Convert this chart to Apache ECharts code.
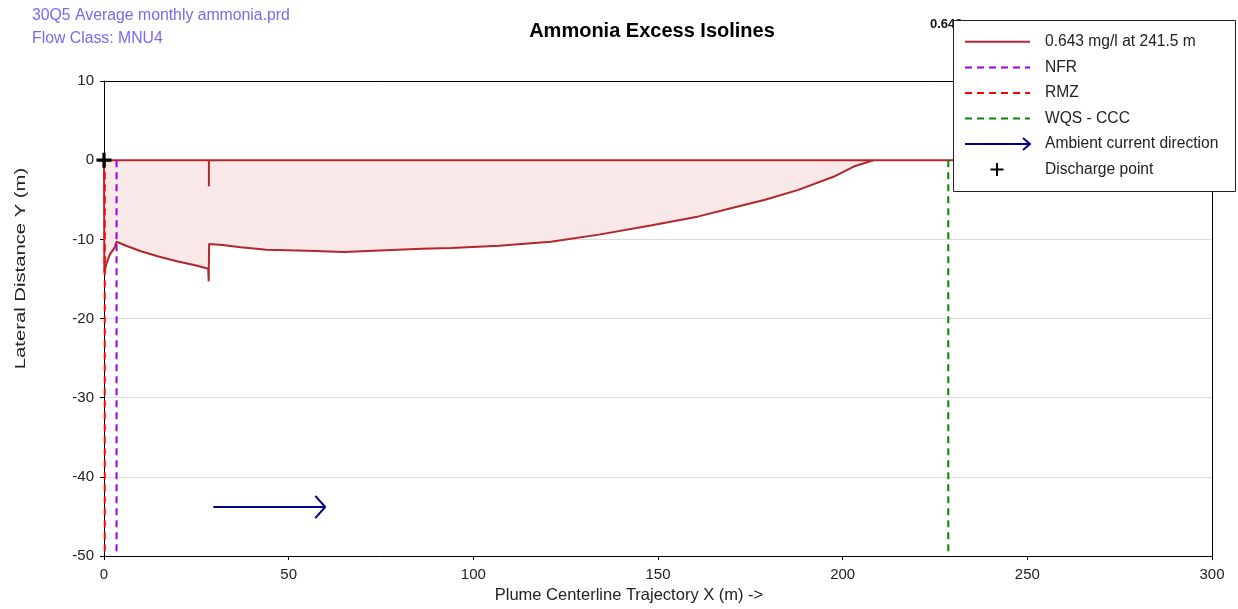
<!DOCTYPE html>
<html>
<head>
<meta charset="utf-8">
<script src="https://cdn.jsdelivr.net/npm/echarts@6/dist/echarts.min.js"></script>
<style>html,body{margin:0;padding:0;background:#fff}#c{width:1238px;height:609px}</style>
</head>
<body>
<div id="c"></div>
<script>
// ---- data ----
const xTicks = [0, 50, 100, 150, 200, 250, 300];
const yTicks = [-50, -40, -30, -20, -10, 0, 10];
// lower boundary of the 0.643 mg/l isoline (x, y in m)
const plumeX = [0, 0.1, 0.7, 1.2, 1.6, 2.0, 2.5, 3.0, 3.4, 6, 10, 15, 20, 25, 28.2, 28.35, 28.45, 32, 37, 44, 55, 65, 73, 86, 94, 107, 121, 134, 148, 161, 170, 179, 188, 197.5, 203, 208.3];
const plumeY = [0, -14.2, -13.0, -12.9, -11.9, -12.0, -11.3, -10.9, -10.3, -10.8, -11.5, -12.2, -12.8, -13.3, -13.7, -15.3, -10.6, -10.7, -11.0, -11.3, -11.45, -11.6, -11.45, -11.2, -11.1, -10.8, -10.3, -9.4, -8.25, -7.1, -6.05, -5.0, -3.75, -2.1, -0.8, 0];
const centerX = [0, 241.5];
const centerY = [0, 0];
const spikeX = [28.4, 28.4];
const spikeY = [0, -3.3];
const rmzX = 0.2, nfrX = 3.4, wqsX = 228.6;
const limitY = [0, -50];
const arrowX = [29.6, 59.9];
const arrowY = [-43.8, -43.8];
const arrowHeadX = [57.2, 59.9, 57.2];
const arrowHeadY = [-42.4, -43.8, -45.2];
const dischargeX = [0], dischargeY = [0];
const legendNames = ['0.643 mg/l at 241.5 m', 'NFR', 'RMZ', 'WQS - CCC', 'Ambient current direction', 'Discharge point'];

const zip = (xs, ys) => xs.map((x, i) => [x, ys[i]]);
const C_PLUME = '#b3262b', C_NFR = '#9a00e6', C_RMZ = '#ff0000', C_WQS = '#008a00', C_ARROW = '#00008b';
const FONT = 'Liberation Sans, Arial, sans-serif';
const PLUS = 'path://M5.5,0 L8.5,0 L8.5,5.5 L14,5.5 L14,8.5 L8.5,8.5 L8.5,14 L5.5,14 L5.5,8.5 L0,8.5 L0,5.5 L5.5,5.5 Z';

const chart = echarts.init(document.getElementById('c'), null, {renderer: 'canvas'});

const lx = 953, ly = 20, lw = 282, lh = 171;
const rowY = [41.7, 67.5, 93, 118.5, 144, 169.5];
const LZ = 100;
const legendEls = [
  {type: 'rect', z: LZ, shape: {x: lx + 0.5, y: ly + 0.5, width: lw, height: lh}, style: {fill: '#fff', stroke: '#222', lineWidth: 1}},
  {type: 'line', z: LZ + 1, shape: {x1: 965, y1: rowY[0], x2: 1030, y2: rowY[0]}, style: {stroke: C_PLUME, lineWidth: 2}},
  {type: 'line', z: LZ + 1, shape: {x1: 965, y1: rowY[1], x2: 1030, y2: rowY[1]}, style: {stroke: C_NFR, lineWidth: 2, lineDash: [7, 5]}},
  {type: 'line', z: LZ + 1, shape: {x1: 965, y1: rowY[2], x2: 1030, y2: rowY[2]}, style: {stroke: C_RMZ, lineWidth: 2, lineDash: [7, 5]}},
  {type: 'line', z: LZ + 1, shape: {x1: 965, y1: rowY[3], x2: 1030, y2: rowY[3]}, style: {stroke: C_WQS, lineWidth: 2, lineDash: [7, 5]}},
  {type: 'line', z: LZ + 1, shape: {x1: 965, y1: rowY[4], x2: 1030, y2: rowY[4]}, style: {stroke: C_ARROW, lineWidth: 2}},
  {type: 'polyline', z: LZ + 1, shape: {points: [[1023, rowY[4] - 6], [1030, rowY[4]], [1023, rowY[4] + 6]]}, style: {stroke: C_ARROW, lineWidth: 2, fill: null}},
  {type: 'rect', z: LZ + 1, shape: {x: 990.5, y: rowY[5] - 1, width: 13, height: 2}, style: {fill: '#000'}},
  {type: 'rect', z: LZ + 1, shape: {x: 996, y: rowY[5] - 6.5, width: 2, height: 13}, style: {fill: '#000'}}
];
legendNames.forEach((n, i) => legendEls.push({
  type: 'text', z: LZ + 1, style: {x: 1045, y: rowY[i], text: n, fill: '#222', font: '15.6px ' + FONT, verticalAlign: 'middle', textAlign: 'left'}
}));

const lineSeries = (name, data, color, dash, extra) => Object.assign({
  name, type: 'line', data, symbol: 'none', silent: true, animation: false,
  lineStyle: {color, width: 2, type: dash ? [7, 5] : 'solid'}
}, extra || {});

const frameAxis = {
  type: 'value', axisLabel: {show: false}, axisTick: {show: false}, splitLine: {show: false},
  axisLine: {show: true, onZero: false, lineStyle: {color: '#000', width: 1}}
};

const option = {
  animation: false,
  backgroundColor: '#fff',
  grid: {left: 104, right: 26, top: 81, bottom: 52, show: false},
  xAxis: [{
    type: 'value', min: xTicks[0], max: xTicks[xTicks.length - 1], interval: 50,
    name: 'Plume Centerline Trajectory X (m) ->', nameLocation: 'middle', nameGap: 28,
    nameTextStyle: {fontFamily: FONT, fontSize: 16.5, color: '#222', padding: [0, 58, 0, 0]},
    axisLine: {onZero: false, lineStyle: {color: '#000', width: 1}},
    axisTick: {show: true, length: 4, lineStyle: {color: '#000'}},
    axisLabel: {fontFamily: FONT, fontSize: 15, color: '#222', margin: 11},
    splitLine: {show: false}
  }, Object.assign({position: 'top', min: xTicks[0], max: xTicks[xTicks.length - 1]}, frameAxis)],
  yAxis: [{
    type: 'value', min: yTicks[0], max: yTicks[yTicks.length - 1], interval: 10,
    axisLine: {show: true, onZero: false, lineStyle: {color: '#000', width: 1}},
    axisTick: {show: true, length: 4, lineStyle: {color: '#000'}},
    axisLabel: {fontFamily: FONT, fontSize: 15, color: '#222', margin: 10},
    splitLine: {show: true, lineStyle: {color: '#dcdcdc', width: 1}}
  }, Object.assign({position: 'right', min: yTicks[0], max: yTicks[yTicks.length - 1]}, frameAxis)],
  series: [
    lineSeries('plume', zip(plumeX, plumeY), C_PLUME, false, {areaStyle: {color: '#f8e8e8', opacity: 1, origin: 0}, z: 2}),
    lineSeries('centerline', zip(centerX, centerY), C_PLUME, false, {z: 3}),
    lineSeries('spike', zip(spikeX, spikeY), C_PLUME, false, {z: 3}),
    lineSeries('RMZ', zip([rmzX, rmzX], limitY), C_RMZ, true, {z: 4}),
    lineSeries('NFR', zip([nfrX, nfrX], limitY), C_NFR, true, {z: 4}),
    lineSeries('WQS - CCC', zip([wqsX, wqsX], limitY), C_WQS, true, {z: 4}),
    lineSeries('Ambient current direction', zip(arrowX, arrowY), C_ARROW, false, {z: 4}),
    lineSeries('arrowhead', zip(arrowHeadX, arrowHeadY), C_ARROW, false, {z: 4}),
    {
      name: 'Discharge point', type: 'scatter', data: zip(dischargeX, dischargeY), z: 20, silent: true, clip: false,
      symbol: PLUS, symbolSize: 15, symbolKeepAspect: true, itemStyle: {color: '#000', opacity: 1}
    }
  ],
  graphic: [
    {type: 'text', z: 10, style: {x: 32, y: 16, text: '30Q5 Average monthly ammonia.prd', fill: '#7b68ee', font: '15.8px ' + FONT, verticalAlign: 'middle'}},
    {type: 'text', z: 10, style: {x: 32, y: 39, text: 'Flow Class: MNU4', fill: '#7b68ee', font: '15.8px ' + FONT, verticalAlign: 'middle'}},
    {type: 'text', z: 10, style: {x: 652, y: 31, text: 'Ammonia Excess Isolines', fill: '#000', font: 'bold 20px ' + FONT, verticalAlign: 'middle', textAlign: 'center'}},
    {type: 'text', z: 10, style: {x: 930, y: 24, text: '0.643', fill: '#111', font: 'bold 13px ' + FONT, verticalAlign: 'middle', textAlign: 'left'}},
    {type: 'text', z: 10, x: 21, y: 268.5, rotation: Math.PI / 2, scaleX: 1.35,
      style: {x: 0, y: 0, text: 'Lateral Distance Y (m)', fill: '#222', font: '15px ' + FONT, verticalAlign: 'middle', textAlign: 'center'}},
    {type: 'group', children: legendEls}
  ]
};
chart.setOption(option);
</script>
</body>
</html>
